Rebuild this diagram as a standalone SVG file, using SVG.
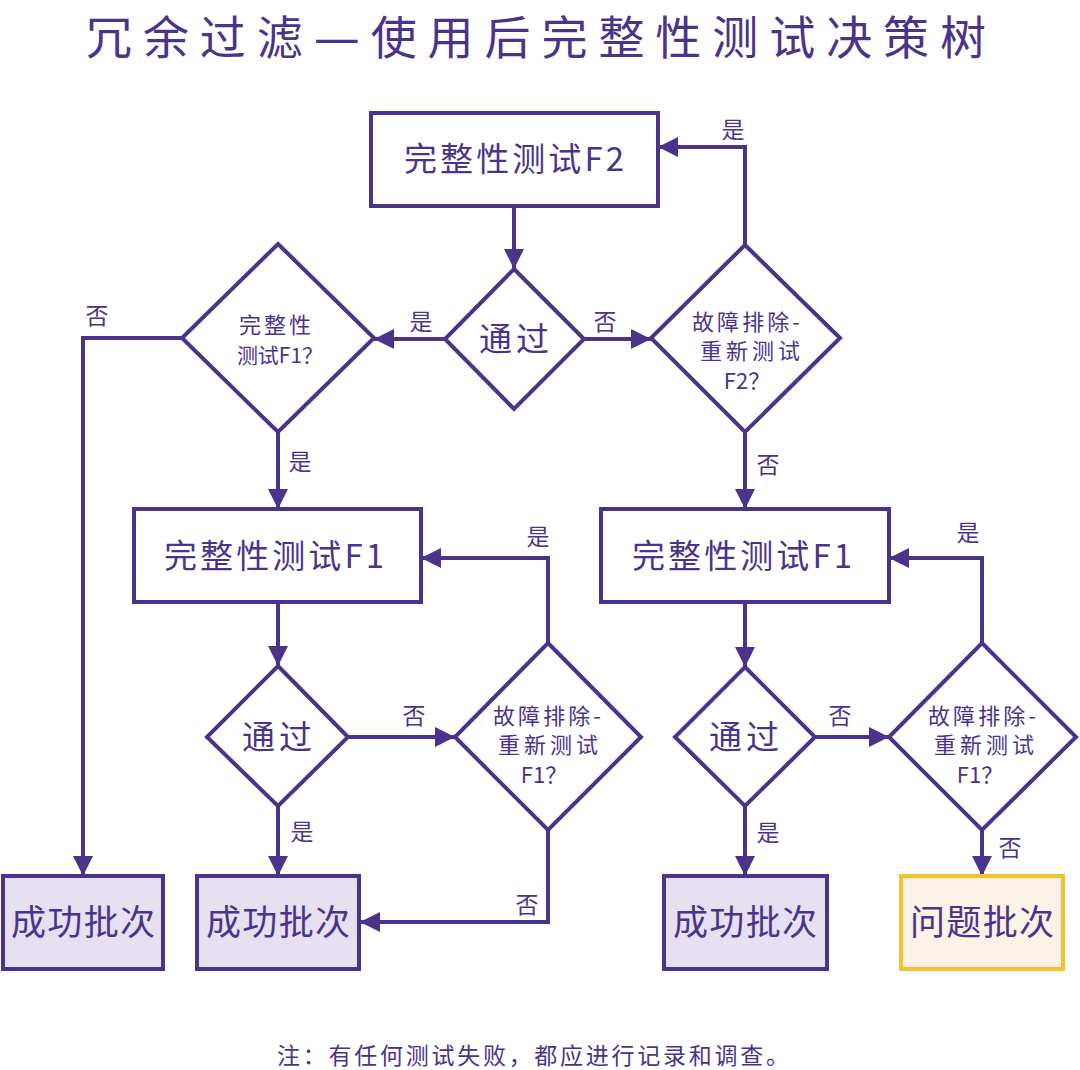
<svg xmlns="http://www.w3.org/2000/svg" width="1080" height="1070" viewBox="0 0 1080 1070">
<defs>
<style>
text{font-family:"Noto Sans CJK SC","Noto Sans",sans-serif;fill:#4b338c;text-anchor:middle}
.box{fill:#fff;stroke:#4b338c;stroke-width:4}
.ok{fill:#e6e0f0;stroke:#4b338c;stroke-width:4}
.bad{fill:#faf3e6;stroke:#f2c233;stroke-width:4}
.dia{fill:#fff;stroke:#4b338c;stroke-width:4}
.c{fill:none;stroke:#4b338c;stroke-width:4;marker-end:url(#ah)}
.lbl{font-size:23px}
.t32{font-size:33px}
.t34{font-size:35px}
.t21{font-size:22px}
</style>
<marker id="ah" markerUnits="userSpaceOnUse" markerWidth="22" markerHeight="22" refX="20" refY="10" orient="auto">
<path d="M0,0 L20,10 L0,20 Z" fill="#4b338c"/>
</marker>
</defs>
<rect width="1080" height="1070" fill="#fff"/>
<text x="536" y="54" style="font-size:46px" textLength="900" lengthAdjust="spacing">冗余过滤<tspan style="font-family:'DejaVu Sans',sans-serif">—</tspan>使用后完整性测试决策树</text>

<g id="connectors">
<path class="c" d="M514,206 V269"/>
<path class="c" d="M445,339 H374"/>
<path class="c" d="M584,339 H651"/>
<path class="c" d="M745,245 V147 H658"/>
<path class="c" d="M182,338 H83 V876"/>
<path class="c" d="M278,432 V509"/>
<path class="c" d="M745,432 V509"/>
<path class="c" d="M278,602 V666"/>
<path class="c" d="M745,602 V667"/>
<path class="c" d="M348,737 H455"/>
<path class="c" d="M548,643 V558 H421"/>
<path class="c" d="M548,830 V922 H360"/>
<path class="c" d="M278,806 V876"/>
<path class="c" d="M815,737 H889"/>
<path class="c" d="M982,643 V558 H889"/>
<path class="c" d="M982,830 V876"/>
<path class="c" d="M745,806 V876"/>
<text class="lbl" x="421" y="330">是</text>
<text class="lbl" x="605" y="330">否</text>
<text class="lbl" x="733" y="138">是</text>
<text class="lbl" x="97" y="324">否</text>
<text class="lbl" x="300" y="470">是</text>
<text class="lbl" x="768" y="473">否</text>
<text class="lbl" x="414" y="724">否</text>
<text class="lbl" x="538" y="545">是</text>
<text class="lbl" x="527" y="913">否</text>
<text class="lbl" x="302" y="840">是</text>
<text class="lbl" x="840" y="724">否</text>
<text class="lbl" x="968" y="541">是</text>
<text class="lbl" x="1010" y="856">否</text>
<text class="lbl" x="768" y="841">是</text>
</g>

<g id="test-f2">
<rect class="box" x="371" y="113" width="287" height="93"/>
<text class="t32" x="514" y="171" textLength="220" lengthAdjust="spacing">完整性测试F2</text>
</g>
<g id="pass-top">
<polygon class="dia" points="514,269 584,339 514,409 445,339"/>
<text class="t32" x="514" y="351" textLength="70" lengthAdjust="spacing">通过</text>
</g>
<g id="test-f1-question">
<polygon class="dia" points="278,244 374,338 278,432 182,338"/>
<text class="t21" x="275" y="333" textLength="72" lengthAdjust="spacing">完整性</text>
<text x="280" y="363" style="font-size:21px">测试F1？</text>
</g>
<g id="retest-f2">
<polygon class="dia" points="745,245 840,338 745,432 651,338"/>
<text class="t21" x="746" y="330" textLength="108" lengthAdjust="spacing">故障排除-</text>
<text class="t21" x="750" y="359" textLength="100" lengthAdjust="spacing">重新测试</text>
<text class="t21" x="747" y="389">F2？</text>
</g>
<g id="test-f1-left">
<rect class="box" x="134" y="509" width="287" height="93"/>
<text class="t32" x="274" y="568" textLength="220" lengthAdjust="spacing">完整性测试F1</text>
</g>
<g id="test-f1-right">
<rect class="box" x="601" y="509" width="288" height="93"/>
<text class="t32" x="742" y="568" textLength="220" lengthAdjust="spacing">完整性测试F1</text>
</g>
<g id="pass-left">
<polygon class="dia" points="278,666 348,737 278,806 207,737"/>
<text class="t32" x="277" y="749" textLength="70" lengthAdjust="spacing">通过</text>
</g>
<g id="retest-f1-left">
<polygon class="dia" points="548,643 641,737 548,830 455,737"/>
<text class="t21" x="547" y="724" textLength="108" lengthAdjust="spacing">故障排除-</text>
<text class="t21" x="548" y="753" textLength="100" lengthAdjust="spacing">重新测试</text>
<text class="t21" x="544" y="783">F1？</text>
</g>
<g id="pass-right">
<polygon class="dia" points="745,667 815,737 745,806 675,737"/>
<text class="t32" x="744" y="749" textLength="70" lengthAdjust="spacing">通过</text>
</g>
<g id="retest-f1-right">
<polygon class="dia" points="982,643 1076,737 982,830 889,737"/>
<text class="t21" x="982" y="724" textLength="108" lengthAdjust="spacing">故障排除-</text>
<text class="t21" x="984" y="753" textLength="100" lengthAdjust="spacing">重新测试</text>
<text class="t21" x="980" y="783">F1？</text>
</g>
<g id="success-1">
<rect class="ok" x="3" y="876" width="160" height="93"/>
<text class="t34" x="83" y="935" textLength="144" lengthAdjust="spacing">成功批次</text>
</g>
<g id="success-2">
<rect class="ok" x="197" y="876" width="162" height="93"/>
<text class="t34" x="278" y="935" textLength="144" lengthAdjust="spacing">成功批次</text>
</g>
<g id="success-3">
<rect class="ok" x="664" y="876" width="163" height="93"/>
<text class="t34" x="745" y="935" textLength="144" lengthAdjust="spacing">成功批次</text>
</g>
<g id="problem">
<rect class="bad" x="901" y="876" width="162" height="93"/>
<text class="t34" x="982" y="935" textLength="144" lengthAdjust="spacing">问题批次</text>
</g>
<text x="533" y="1064" style="font-size:23px" textLength="512" lengthAdjust="spacing">注：有任何测试失败，都应进行记录和调查。</text>
</svg>
